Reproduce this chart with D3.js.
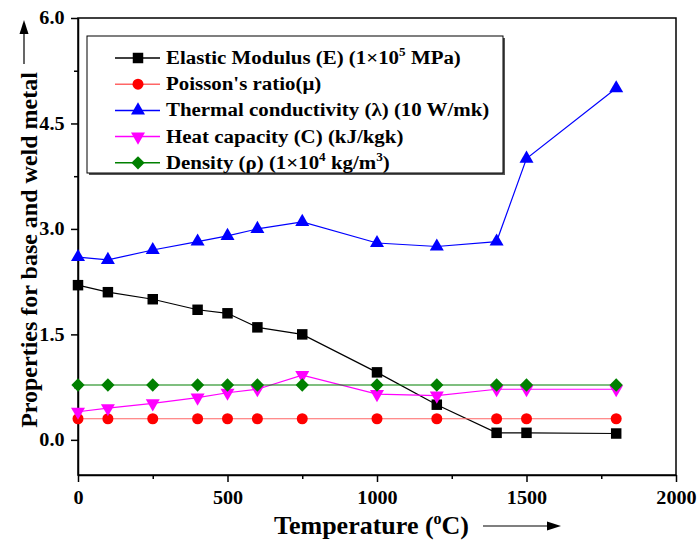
<!DOCTYPE html>
<html><head><meta charset="utf-8">
<script src="https://cdn.jsdelivr.net/npm/d3@7"></script>
<style>body{margin:0;background:#fff}</style>
</head><body>
<svg id="c" width="697" height="541"></svg>
<script>
const temps = [0,100,250,400,500,600,750,1000,1200,1400,1500,1800];
const elastic = [2.2,2.1,2.0,1.85,1.8,1.6,1.5,0.96,0.5,0.1,0.1,0.09];
const poisson = [0.3,0.3,0.3,0.3,0.3,0.3,0.3,0.3,0.3,0.3,0.3,0.3];
const thermal = [2.6,2.56,2.7,2.82,2.9,3.0,3.1,2.8,2.75,2.82,4.0,5.0];
const heatCap = [0.4,0.45,0.52,0.6,0.67,0.72,0.92,0.65,0.63,0.72,0.72,0.72];
const density = [0.78,0.78,0.78,0.78,0.78,0.78,0.78,0.78,0.78,0.78,0.78,0.78];
const xTicks = [0,500,1000,1500,2000];
const yTicks = [0,1.5,3.0,4.5,6.0];

const FONT = "'Liberation Serif','Times New Roman',serif";
const series = [
 {name:"Elastic Modulus (E) (1×10", sup:"5", post:" MPa)", vals:elastic, color:"#000", line:"#000", sym:d3.symbolSquare, size:110, rot:0},
 {name:"Poisson's ratio(μ)", vals:poisson, color:"#ff0000", line:"#ff6666", sym:d3.symbolCircle, size:95, rot:0},
 {name:"Thermal conductivity (λ) (10 W/mk)", vals:thermal, color:"#0000ff", line:"#0000ff", sym:d3.symbolTriangle, size:85, rot:0},
 {name:"Heat capacity (C) (kJ/kgk)", vals:heatCap, color:"#ff00ff", line:"#ff00ff", sym:d3.symbolTriangle, size:85, rot:180},
 {name:"Density (ρ) (1×10", sup:"4", post:" kg/m", sup2:"3", post2:")", vals:density, color:"#008000", line:"#008000", sym:d3.symbolSquare, size:88, rot:45}
];

const svg = d3.select("#c");
const L=78,R=676,T=18,B=475;
const x = d3.scaleLinear().domain([0,2000]).range([L,R]);
const y = d3.scaleLinear().domain([-0.5,6]).range([B,T]);

svg.append("rect").attr("x",L).attr("y",T).attr("width",R-L).attr("height",B-T).attr("fill","none").attr("stroke","#000").attr("stroke-width",1.5);

const xa = svg.append("g").attr("transform",`translate(0,${B})`)
  .call(d3.axisBottom(x).tickValues(xTicks).tickFormat(d3.format("d")).tickSize(7).tickSizeOuter(0));
svg.append("g").attr("transform",`translate(0,${B})`)
  .call(d3.axisBottom(x).tickValues([250,750,1250,1750]).tickFormat("").tickSize(4).tickSizeOuter(0))
  .select(".domain").remove();
const ya = svg.append("g").attr("transform",`translate(${L},0)`)
  .call(d3.axisLeft(y).tickValues(yTicks).tickFormat(d3.format(".1f")).tickSize(7).tickSizeOuter(0));
svg.append("g").attr("transform",`translate(${L},0)`)
  .call(d3.axisLeft(y).tickValues([0.75,2.25,3.75,5.25]).tickFormat("").tickSize(4).tickSizeOuter(0))
  .select(".domain").remove();
svg.selectAll(".tick line").attr("stroke-width",1.5);
svg.selectAll(".domain").attr("stroke-width",1.5);
[xa,ya].forEach(a=>a.attr("font-family",FONT).attr("font-size",18));
xa.selectAll("text").attr("dy","1.05em").attr("fill","#000").attr("transform","scale(1.12,1)")
  .style("font-weight","bold").style("font-family",FONT);
ya.selectAll("text").attr("x",-12).attr("fill","#000").attr("transform","scale(1.12,1)")
  .style("font-weight","bold").style("font-family",FONT);

const lineGen = d3.line().x((d,i)=>x(temps[i])).y(d=>y(d));
series.forEach(s=>{
  svg.append("path").datum(s.vals).attr("d",lineGen).attr("fill","none").attr("stroke",s.line).attr("stroke-width",1.2);
});
series.forEach(s=>{
  svg.append("g").selectAll("path").data(s.vals).join("path")
    .attr("d",d3.symbol().type(s.sym).size(s.size))
    .attr("transform",(d,i)=>`translate(${x(temps[i])},${y(d)}) rotate(${s.rot})`)
    .attr("fill",s.color);
});

const lg = svg.append("g").attr("font-family",FONT).attr("font-weight","bold");
lg.append("rect").attr("x",89).attr("y",38).attr("width",416).attr("height",137).attr("fill","#555");
lg.append("rect").attr("x",87).attr("y",36).attr("width",416).attr("height",137).attr("fill","#fff").attr("stroke","#000").attr("stroke-width",1);
series.forEach((s,i)=>{
  const yy = 58 + i*26.2;
  lg.append("line").attr("x1",115).attr("x2",160).attr("y1",yy).attr("y2",yy).attr("stroke",s.line).attr("stroke-width",1.5);
  lg.append("path").attr("d",d3.symbol().type(s.sym).size(s.size)).attr("transform",`translate(138,${yy}) rotate(${s.rot})`).attr("fill",s.color);
  const t = lg.append("text").attr("transform",`translate(166,${yy+6}) scale(1.1,1)`).attr("font-size",19).attr("fill","#000");
  t.append("tspan").text(s.name);
  if(s.sup){
    t.append("tspan").attr("dy",-8).attr("font-size",12).text(s.sup);
    t.append("tspan").attr("dy",8).text(s.post);
  }
  if(s.sup2){
    t.append("tspan").attr("dy",-8).attr("font-size",12).text(s.sup2);
    t.append("tspan").attr("dy",8).text(s.post2);
  }
});

const xt = svg.append("text").attr("x",274).attr("y",534).attr("font-size",26)
  .attr("font-family",FONT).attr("font-weight","bold").attr("fill","#000");
xt.append("tspan").text("Temperature (");
xt.append("tspan").attr("dy",-10).attr("font-size",16).text("o");
xt.append("tspan").attr("dy",10).text("C)");
svg.append("line").attr("x1",483).attr("x2",550).attr("y1",526).attr("y2",526).attr("stroke","#000").attr("stroke-width",1.2);
svg.append("path").attr("d","M561,526 L547,521.5 L547,530.5 Z").attr("fill","#000");

svg.append("text").attr("transform","translate(37,250) rotate(-90)").attr("text-anchor","middle")
  .attr("font-family",FONT).attr("font-weight","bold")
  .attr("font-size",24).attr("fill","#000").text("Properties for base and weld metal");
svg.append("line").attr("x1",24).attr("x2",24).attr("y1",64).attr("y2",30).attr("stroke","#000").attr("stroke-width",1.2);
svg.append("path").attr("d","M24,20 L19.5,34 L28.5,34 Z").attr("fill","#000");
</script>
</body></html>
